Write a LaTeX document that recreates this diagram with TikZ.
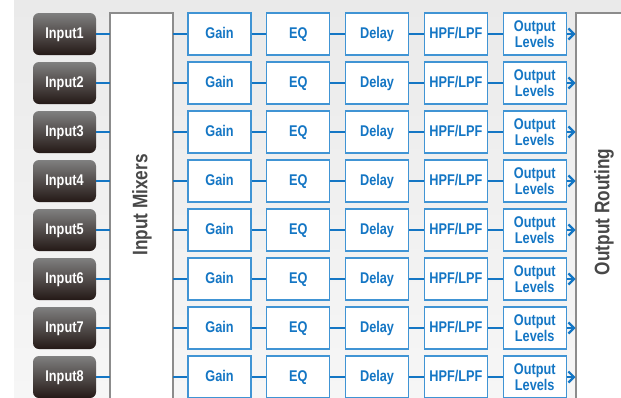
\documentclass[tikz,border=0pt]{standalone}
\usepackage{fontspec}
\newfontfamily\dspfont{Liberation Sans Bold}[FakeStretch=0.82]
\usetikzlibrary{positioning,arrows.meta}
\definecolor{dspblue}{RGB}{20,118,196}
\definecolor{boxblue}{RGB}{64,148,212}
\definecolor{panelgray}{RGB}{234,234,234}
\definecolor{panelgraylow}{RGB}{246,246,246}
\definecolor{inputdark}{RGB}{36,25,22}
\definecolor{labelgray}{RGB}{72,72,72}

\begin{document}
\begin{tikzpicture}[x=1pt, y=-1pt,
  block/.style={rectangle, draw=boxblue, line width=1.3pt, fill=white, minimum width=63pt, minimum height=42pt,
    inner sep=0pt, align=center, text=dspblue, font=\dspfont\fontsize{15.5}{16.5}\selectfont},
  oneline/.style={text height=11pt, text depth=3pt},
  inbox/.style={rectangle, rounded corners=6pt, minimum width=63pt, minimum height=42pt, inner sep=0pt,
    top color=black!50, middle color=inputdark, bottom color=inputdark, text=white, oneline,
    font=\dspfont\fontsize{15.5}{16.5}\selectfont},
  stage/.style={rectangle, draw=black!45, line width=1.3pt, fill=white},
  stagelabel/.style={rotate=90, text=labelgray, font=\dspfont\fontsize{21}{22}\selectfont},
  link/.style={dspblue, line width=1.8pt},
  arrow/.style={link, -{Straight Barb[length=5.5pt, width=11pt, line width=2.2pt]}},
]
\useasboundingbox (0,0) rectangle (621,397);

% === BACKGROUND PANEL ===
\shade[top color=panelgray, bottom color=panelgraylow] (14,0) rectangle (621,397);

% === MIXER AND ROUTING STAGES ===
\draw[stage] (110,13) rectangle (173,405);
\draw[stage] (576,13) rectangle (640,405);
\node[stagelabel] (mixlabel) at (142,205) {Input Mixers};
\node[stagelabel] (routelabel) at (604,212) {Output Routing};

% === CHANNEL STRIPS ===
\foreach \i in {1,...,8} {
  \pgfmathsetmacro{\ypos}{34+49*(\i-1)}
  \node[inbox] (in\i) at (64.5,\ypos) {Input\i};
  \coordinate (mixin\i) at (110,\ypos);
  \coordinate (mixout\i) at (173,\ypos);
  \coordinate (route\i) at (575.5,\ypos);
  \node[block, oneline] (gain\i) at (219.5,\ypos) {Gain};
  \node[block, oneline, right=14.5pt of gain\i] (eq\i) {EQ};
  \node[block, oneline, right=14.5pt of eq\i] (delay\i) {Delay};
  \node[block, oneline, right=14.5pt of delay\i] (filter\i) {HPF/LPF};
  \node[block, right=14.5pt of filter\i] (level\i) {Output\\Levels};
  \draw[link] (in\i) -- (mixin\i);
  \draw[link] (mixout\i) -- (gain\i);
  \draw[link] (gain\i) -- (eq\i);
  \draw[link] (eq\i) -- (delay\i);
  \draw[link] (delay\i) -- (filter\i);
  \draw[link] (filter\i) -- (level\i);
  \draw[arrow] (level\i) -- (route\i);
}
\end{tikzpicture}
\end{document}
